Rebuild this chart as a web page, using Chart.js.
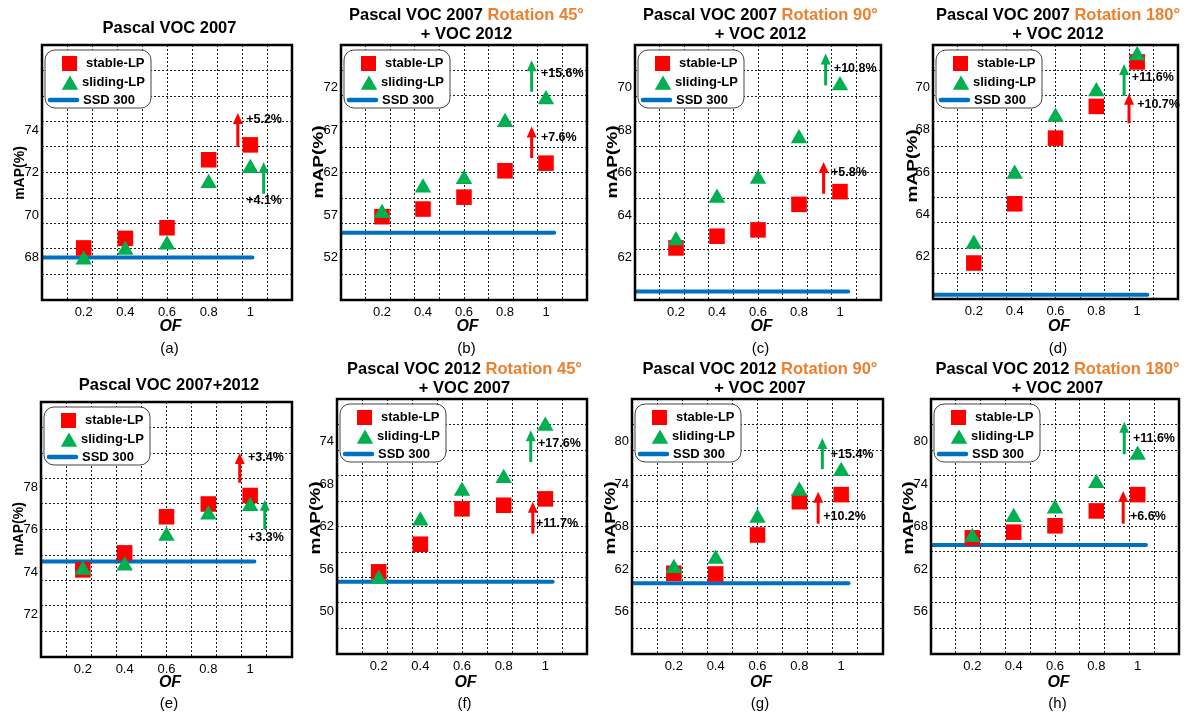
<!DOCTYPE html>
<html>
<head>
<meta charset="utf-8">
<script src="https://cdn.jsdelivr.net/npm/chart.js@4.4.1/dist/chart.umd.min.js"></script>
<style>
  body { margin: 0; background: #fff; width: 1187px; height: 715px; position: relative; overflow: hidden;
         font-family: "Liberation Sans", Arial, sans-serif; color: #000; }
  canvas { position: absolute; }
  .txt { position: absolute; transform: translate(-50%, -50%); white-space: nowrap; z-index: 2; }
  .title { font-weight: bold; font-size: 16.5px; }
  .rot { color: #EE7F2D; }
  .ylab { font-weight: bold; }
  .xlab { font-weight: bold; font-style: italic; font-size: 16px; }
  .cap { font-size: 15px; }
</style>
</head>
<body>
<script>
// x axis: overlap factor
const ofValues = [0.2, 0.4, 0.6, 0.8, 1];
const ofLabels = ['0.2', '0.4', '0.6', '0.8', '1'];

// (a) Pascal VOC 2007
const stableA = [68.45, 68.9, 69.4, 72.6, 73.3];
const slidingA = [67.9, 68.35, 68.6, 71.5, 72.2];
const ssdA = 68.0;
const yTicksA = [68, 70, 72, 74];
// arrow: [x, from, to, label, labelX, labelY, colour]
const arrowsA = [[0.94, 73.2, 74.8, '+5.2%', 0.98, 74.5, 'red'], [1.064, 71.0, 72.5, '+4.1%', 0.98, 70.7, 'green']];

// (b) VOC 2007 rotation 45 + VOC 2012
const stableB = [56.8, 57.7, 59.1, 62.2, 63.1];
const slidingB = [57.2, 60.2, 61.2, 67.9, 70.6];
const ssdB = 54.9;
const yTicksB = [52, 57, 62, 67, 72];
const arrowsB = [[0.93, 71.5, 75.2, '+15.6%', 0.975, 73.7, 'green'], [0.93, 63.7, 67.4, '+7.6%', 0.975, 66.1, 'red']];

// (c) VOC 2007 rotation 90 + VOC 2012
const stableC = [62.45, 63.0, 63.3, 64.5, 65.1];
const slidingC = [62.8, 64.8, 65.7, 67.6, 70.1];
const ssdC = 60.4;
const yTicksC = [62, 64, 66, 68, 70];
const arrowsC = [[0.93, 70.1, 71.6, '+10.8%', 0.97, 70.9, 'green'], [0.92, 65.0, 66.5, '+5.8%', 0.956, 66.0, 'red']];

// (d) VOC 2007 rotation 180 + VOC 2012
const stableD = [61.7, 64.5, 67.6, 69.1, 71.2];
const slidingD = [62.6, 65.9, 68.6, 69.8, 71.5];
const ssdD = 60.2;
const yTicksD = [62, 64, 66, 68, 70];
const arrowsD = [[0.936, 69.6, 71.1, '+11.6%', 0.974, 70.45, 'green'], [0.96, 68.3, 69.7, '+10.7%', 1.0, 69.2, 'red']];

// (e) VOC 2007+2012
const stableE = [74.1, 74.9, 76.6, 77.2, 77.6];
const slidingE = [74.1, 74.3, 75.7, 76.7, 77.1];
const ssdE = 74.5;
const yTicksE = [72, 74, 76, 78];
const arrowsE = [[0.95, 78.2, 79.6, '+3.4%', 0.99, 79.4, 'red'], [1.07, 76.0, 77.4, '+3.3%', 0.99, 75.6, 'green']];

// (f) VOC 2012 rotation 45 + VOC 2007
const stableF = [55.6, 59.5, 64.5, 65.0, 65.9];
const slidingF = [54.6, 62.8, 67.0, 68.8, 76.2];
const ssdF = 54.2;
const yTicksF = [50, 56, 62, 68, 74];
const arrowsF = [[0.93, 71.1, 75.6, '+17.6%', 0.965, 73.7, 'green'], [0.94, 61.0, 65.5, '+11.7%', 0.955, 62.4, 'red']];

// (g) VOC 2012 rotation 90 + VOC 2007
const stableG = [61.4, 61.3, 66.8, 71.5, 72.5];
const slidingG = [62.1, 63.4, 69.2, 73.0, 75.8];
const ssdG = 60.0;
const yTicksG = [56, 62, 68, 74, 80];
const arrowsG = [[0.91, 76.1, 80.5, '+15.4%', 0.95, 78.2, 'green'], [0.89, 68.4, 72.9, '+10.2%', 0.914, 69.4, 'red']];

// (h) VOC 2012 rotation 180 + VOC 2007
const stableH = [66.4, 67.2, 68.1, 70.2, 72.5];
const slidingH = [66.5, 69.3, 70.5, 74.1, 78.1];
const ssdH = 65.4;
const yTicksH = [56, 62, 68, 74, 80];
const arrowsH = [[0.935, 78.2, 82.8, '+11.6%', 0.977, 80.4, 'green'], [0.93, 68.4, 73.0, '+6.6%', 0.963, 69.4, 'red']];

const RED = '#FF0000';
const GREEN = '#00B050';
const BLUE = '#0070C0';

// layout of each panel: box = [left, top, width, height] of the plot frame
// ylab = [centre x, centre y, font size, stretch along the text]
const panels = [
  { cap: '(a)', box: [42, 45, 255, 255], y: [66, 78], ssdEnd: 1.01, title: ['Pascal VOC 2007'], ylab: [19, 173, 14, 1],
    stable: stableA, sliding: slidingA, ssd: ssdA, ticks: yTicksA, arrows: arrowsA },
  { cap: '(b)', box: [341, 45, 251, 255], y: [47, 77], ssdEnd: 1.04, title: ['Pascal VOC 2007 ', 'Rotation 45°', '+ VOC 2012'], ylab: [317, 162, 15, 1.27],
    stable: stableB, sliding: slidingB, ssd: ssdB, ticks: yTicksB, arrows: arrowsB },
  { cap: '(c)', box: [635, 45, 251, 255], y: [60, 72], ssdEnd: 1.04, title: ['Pascal VOC 2007 ', 'Rotation 90°', '+ VOC 2012'], ylab: [611, 162, 15, 1.27],
    stable: stableC, sliding: slidingC, ssd: ssdC, ticks: yTicksC, arrows: arrowsC },
  { cap: '(d)', box: [933, 45, 250, 254], y: [60, 72], ssdEnd: 1.05, title: ['Pascal VOC 2007 ', 'Rotation 180°', '+ VOC 2012'], ylab: [911, 166, 15, 1.27],
    stable: stableD, sliding: slidingD, ssd: ssdD, ticks: yTicksD, arrows: arrowsD },
  { cap: '(e)', box: [41, 402, 256, 255], y: [70, 82], ssdEnd: 1.02, title: ['Pascal VOC 2007+2012'], ylab: [18, 529, 14, 1],
    stable: stableE, sliding: slidingE, ssd: ssdE, ticks: yTicksE, arrows: arrowsE },
  { cap: '(f)', box: [337, 399, 255, 255], y: [44, 80], ssdEnd: 1.035, title: ['Pascal VOC 2012 ', 'Rotation 45°', '+ VOC 2007'], ylab: [314, 518, 15, 1.27],
    stable: stableF, sliding: slidingF, ssd: ssdF, ticks: yTicksF, arrows: arrowsF },
  { cap: '(g)', box: [632, 399, 256, 255], y: [50, 86], ssdEnd: 1.035, title: ['Pascal VOC 2012 ', 'Rotation 90°', '+ VOC 2007'], ylab: [609, 518, 15, 1.27],
    stable: stableG, sliding: slidingG, ssd: ssdG, ticks: yTicksG, arrows: arrowsG },
  { cap: '(h)', box: [931, 399, 253, 255], y: [50, 86], ssdEnd: 1.04, title: ['Pascal VOC 2012 ', 'Rotation 180°', '+ VOC 2007'], ylab: [907, 518, 15, 1.27],
    stable: stableH, sliding: slidingH, ssd: ssdH, ticks: yTicksH, arrows: arrowsH },
];

const PAD_TOP = 14, PAD_RIGHT = 6, Y_W = 44, X_H = 22;

// grid every tenth of the range, labels at the given values
function makeTicks(min, max, labels) {
  const step = (max - min) / 10;
  const ticks = [];
  for (let i = 1; i < 10; i++) ticks.push({ value: min + step * i, isGrid: true });
  labels.forEach(v => ticks.push({ value: v, isGrid: false }));
  return ticks;
}

function addText(html, cls, x, y, style) {
  const el = document.createElement('div');
  el.className = 'txt ' + cls;
  el.innerHTML = html;
  el.style.left = x + 'px';
  el.style.top = y + 'px';
  if (style) Object.assign(el.style, style);
  document.body.appendChild(el);
}

function drawTriangle(ctx, x, y, r) {
  ctx.beginPath();
  ctx.moveTo(x, y - r);
  ctx.lineTo(x + r * Math.sqrt(3) / 2, y + r / 2);
  ctx.lineTo(x - r * Math.sqrt(3) / 2, y + r / 2);
  ctx.closePath();
  ctx.fill();
}

// arrows, legend and the black frame
const framePlugin = {
  id: 'frame',
  afterDatasetsDraw(chart, args, opts) {
    const { ctx, chartArea: a, scales: { x, y } } = chart;
    ctx.save();

    // improvement arrows
    opts.arrows.forEach(([ax, from, to, text, lx, ly, col]) => {
      const px = x.getPixelForValue(ax);
      const p0 = y.getPixelForValue(from);
      const p1 = y.getPixelForValue(to);
      const c = col === 'red' ? RED : GREEN;
      ctx.strokeStyle = c;
      ctx.fillStyle = c;
      ctx.lineWidth = 3;
      ctx.beginPath();
      ctx.moveTo(px, p0);
      ctx.lineTo(px, p1 + 9);
      ctx.stroke();
      ctx.beginPath();
      ctx.moveTo(px, p1);
      ctx.lineTo(px - 5, p1 + 11);
      ctx.lineTo(px + 5, p1 + 11);
      ctx.closePath();
      ctx.fill();
      ctx.fillStyle = '#000';
      ctx.font = 'bold 12.5px "Liberation Sans", Arial, sans-serif';
      ctx.textAlign = 'left';
      ctx.textBaseline = 'middle';
      ctx.fillText(text, x.getPixelForValue(lx), y.getPixelForValue(ly));
    });

    // legend box
    const lx = a.left + 3, ly = a.top + 5, lw = 106, lh = 58;
    ctx.fillStyle = '#fff';
    ctx.strokeStyle = '#444';
    ctx.lineWidth = 1;
    ctx.beginPath();
    ctx.roundRect(lx, ly, lw, lh, 10);
    ctx.fill();
    ctx.stroke();
    ctx.fillStyle = RED;
    ctx.fillRect(lx + 17, ly + 6, 15, 15);
    ctx.fillStyle = GREEN;
    drawTriangle(ctx, lx + 25, ly + 35, 9.5);
    ctx.strokeStyle = BLUE;
    ctx.lineWidth = 4.5;
    ctx.lineCap = 'round';
    ctx.beginPath();
    ctx.moveTo(lx + 5, ly + 50);
    ctx.lineTo(lx + 32, ly + 50);
    ctx.stroke();
    ctx.fillStyle = '#000';
    ctx.font = 'bold 13px "Liberation Sans", Arial, sans-serif';
    ctx.textAlign = 'left';
    ctx.textBaseline = 'middle';
    ctx.fillText('stable-LP', lx + 41, ly + 13);
    ctx.fillText('sliding-LP', lx + 37, ly + 32);
    ctx.fillText('SSD 300', lx + 38, ly + 50);

    // frame
    ctx.strokeStyle = '#000';
    ctx.lineWidth = 2.5;
    ctx.lineCap = 'butt';
    ctx.strokeRect(a.left, a.top, a.right - a.left, a.bottom - a.top);
    ctx.restore();
  }
};

function gridOpts() {
  return {
    color: ctx => (ctx.tick && ctx.tick.isGrid) ? '#222' : 'rgba(0,0,0,0)',
    lineWidth: 1,
    drawTicks: false
  };
}

panels.forEach((p, i) => {
  const [bl, bt, bw, bh] = p.box;
  const row2 = i >= 4;

  const canvas = document.createElement('canvas');
  canvas.width = bw + Y_W + PAD_RIGHT;
  canvas.height = bh + PAD_TOP + X_H;
  canvas.style.left = (bl - Y_W) + 'px';
  canvas.style.top = (bt - PAD_TOP) + 'px';
  document.body.appendChild(canvas);

  new Chart(canvas.getContext('2d'), {
    type: 'scatter',
    data: {
      datasets: [
        {
          label: 'sliding-LP',
          data: ofValues.map((v, k) => ({ x: v, y: p.sliding[k] })),
          pointStyle: 'triangle', pointRadius: 9.5,
          backgroundColor: GREEN, borderColor: GREEN, borderWidth: 0,
          clip: false, order: 1
        },
        {
          label: 'stable-LP',
          data: ofValues.map((v, k) => ({ x: v, y: p.stable[k] })),
          pointStyle: 'rect', pointRadius: 11,
          backgroundColor: RED, borderColor: RED, borderWidth: 0,
          clip: false, order: 2
        },
        {
          type: 'line',
          label: 'SSD 300',
          data: [{ x: 0, y: p.ssd }, { x: p.ssdEnd, y: p.ssd }],
          borderColor: BLUE, borderWidth: 4, borderCapStyle: 'round',
          pointRadius: 0, fill: false, order: 3
        }
      ]
    },
    options: {
      responsive: false,
      animation: false,
      devicePixelRatio: 1,
      layout: { padding: { top: PAD_TOP, right: PAD_RIGHT, left: 0, bottom: 0 } },
      plugins: {
        legend: { display: false },
        tooltip: { enabled: false },
        frame: { arrows: p.arrows }
      },
      scales: {
        x: {
          type: 'linear', min: 0, max: 1.2,
          afterBuildTicks: s => { s.ticks = makeTicks(0, 1.2, ofValues); },
          afterFit: s => { s.height = X_H; },
          grid: gridOpts(),
          border: { display: false, dash: [2, 2] },
          ticks: {
            autoSkip: false, maxRotation: 0, padding: 5, color: '#000',
            font: { family: '"Liberation Sans", Arial, sans-serif', size: 13 },
            callback: (v, idx, ticks) => {
              if (ticks[idx].isGrid) return '';
              const k = ofValues.findIndex(o => Math.abs(o - v) < 1e-6);
              return k >= 0 ? ofLabels[k] : '';
            }
          }
        },
        y: {
          type: 'linear', min: p.y[0], max: p.y[1],
          afterBuildTicks: s => { s.ticks = makeTicks(p.y[0], p.y[1], p.ticks); },
          afterFit: s => { s.width = Y_W; },
          grid: gridOpts(),
          border: { display: false, dash: [2, 2] },
          ticks: {
            autoSkip: false, padding: 3, color: '#000',
            font: { family: '"Liberation Sans", Arial, sans-serif', size: 13 },
            callback: (v, idx, ticks) => ticks[idx].isGrid ? '' : String(Math.round(v))
          }
        }
      }
    },
    plugins: [framePlugin]
  });

  // titles and axis text
  const cx = bl + bw / 2;
  if (p.title.length === 1) {
    addText(p.title[0], 'title', cx, bt - 18);
  } else {
    addText(p.title[0] + '<span class="rot">' + p.title[1] + '</span>', 'title', cx, bt - 31);
    addText(p.title[2], 'title', cx, bt - 12);
  }
  addText('mAP(%)', 'ylab', p.ylab[0], p.ylab[1], {
    fontSize: p.ylab[2] + 'px',
    transform: 'translate(-50%, -50%) rotate(-90deg) scaleX(' + p.ylab[3] + ')'
  });
  addText('OF', 'xlab', cx + 1, row2 ? 682 : 326);
  addText(p.cap, 'cap', cx, row2 ? 702 : 347);
});
</script>
</body>
</html>
